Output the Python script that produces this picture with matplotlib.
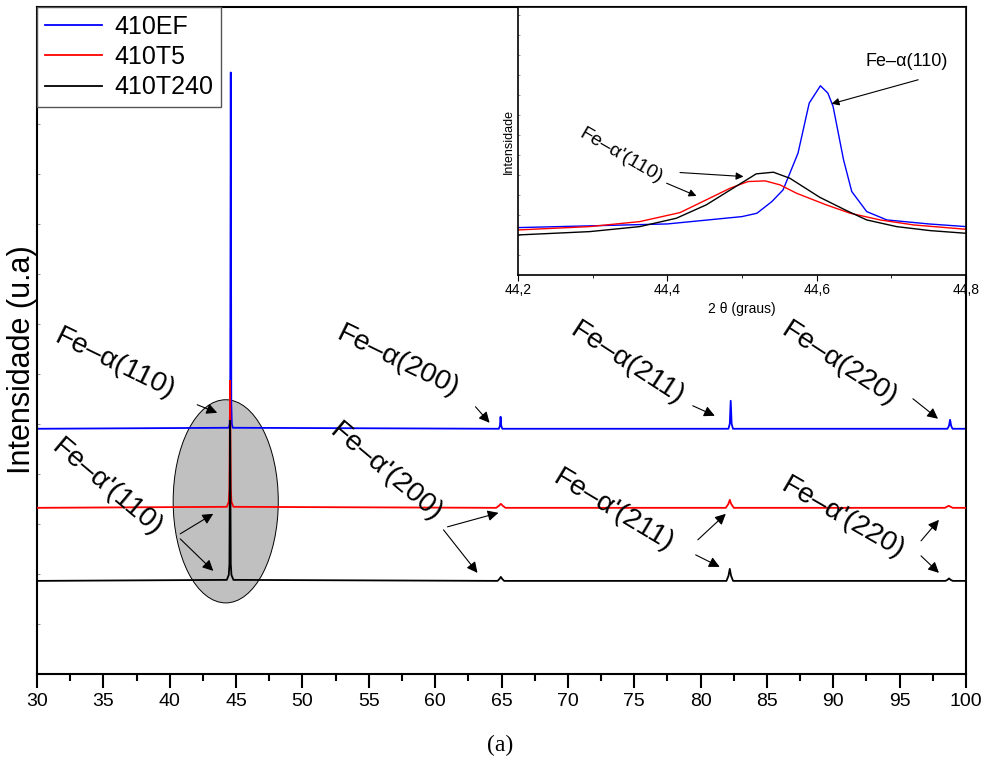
import numpy as np
import matplotlib.pyplot as plt
from matplotlib.patches import Ellipse
from matplotlib.ticker import MultipleLocator, FixedLocator

plt.rcParams['font.family'] = ['Liberation Sans', 'DejaVu Sans']

# difratogramas (intensidade em u.a., curvas deslocadas)
x_ef = [30, 44.45, 44.52, 44.56, 44.6, 44.64, 44.68, 44.75, 64.8, 64.88, 64.93, 64.98, 65.06,
        82.1, 82.2, 82.27, 82.34, 82.44, 98.6, 98.72, 98.8, 98.88, 98.98, 100]
y_ef = [245, 246, 250, 270, 601, 270, 250, 246, 245, 248, 257, 248, 245,
        245, 250, 273, 250, 245, 245, 248, 254, 248, 245, 245]

x_t5 = [30, 44.3, 44.45, 44.5, 44.55, 44.6, 44.65, 44.8, 64.6, 64.8, 64.95, 65.1, 65.3,
        81.9, 82.1, 82.2, 82.3, 82.5, 98.4, 98.7, 99.0, 100]
y_t5 = [166, 167, 172, 185, 293, 185, 172, 167, 166, 168, 170, 168, 166,
        166, 170, 174, 170, 166, 166, 168, 166, 166]

x_t240 = [30, 44.3, 44.45, 44.5, 44.55, 44.6, 44.65, 44.8, 64.7, 64.85, 64.95, 65.05, 65.2,
          81.95, 82.1, 82.2, 82.3, 82.45, 98.45, 98.6, 98.72, 98.85, 99.0, 100]
y_t240 = [93, 94, 99, 110, 253, 110, 99, 94, 93, 95, 97, 95, 93,
          93, 98, 105, 98, 93, 93, 94, 95.5, 94, 93, 93]

# detalhe do pico (110)
xi_ef = [44.2, 44.4, 44.5, 44.52, 44.54, 44.555, 44.575, 44.59, 44.605, 44.615, 44.622,
         44.636, 44.647, 44.667, 44.694, 44.75, 44.8]
yi_ef = [142, 153, 175, 185, 220, 255, 365, 515, 567, 545, 505, 345, 250, 190, 165, 153, 145]
xi_t5 = [44.2, 44.296, 44.363, 44.417, 44.452, 44.484, 44.508, 44.531, 44.551, 44.573,
         44.613, 44.645, 44.685, 44.73, 44.8]
yi_t5 = [135, 145, 160, 187, 225, 260, 280, 282, 270, 245, 210, 185, 165, 150, 137]
xi_t240 = [44.2, 44.296, 44.363, 44.412, 44.452, 44.488, 44.519, 44.542, 44.564, 44.604,
           44.64, 44.667, 44.707, 44.752, 44.8]
yi_t240 = [120, 130, 145, 170, 210, 260, 303, 308, 290, 233, 193, 165, 145, 133, 125]

# rotulos: texto, posicao, rotacao, setas (origem -> destino)
labels = ["Fe\u2013\u03b1(110)", "Fe\u2013\u03b1'(110)", "Fe\u2013\u03b1(200)", "Fe\u2013\u03b1'(200)",
          "Fe\u2013\u03b1(211)", "Fe\u2013\u03b1'(211)", "Fe\u2013\u03b1(220)", "Fe\u2013\u03b1'(220)"]
label_x = [35.88, 35.28, 57.16, 56.25, 74.5, 73.45, 90.42, 90.72]
label_y = [310, 186, 312, 201, 310, 163, 310, 156]
label_rot = [-26, -40, -26, -40, -33, -31, -33, -30]
arrows = [
    [((42.07, 269), (43.58, 261))],
    [((40.79, 140), (43.28, 160)), ((40.79, 135), (43.28, 103))],
    [((63.04, 267), (64.10, 251))],
    [((60.93, 147), (64.77, 161)), ((60.63, 144), (63.19, 101))],
    [((79.41, 268), (81.07, 258))],
    [((79.79, 134), (81.90, 160)), ((79.63, 119), (81.44, 107))],
    [((96.0, 275), (97.89, 255))],
    [((96.61, 133), (97.96, 154)), ((96.61, 118), (97.96, 101))],
]

fig = plt.figure(figsize=(9.92, 7.67), dpi=100)
ax = fig.add_axes([0.0373, 0.1213, 0.9365, 0.869])

ax.add_patch(Ellipse((44.22, 172.5), 7.92, 203, fc='#c0c0c0', ec='k', lw=0.7, zorder=1))
ax.plot(x_ef, y_ef, color='blue', lw=1.3, label='410EF', zorder=2)
ax.plot(x_t5, y_t5, color='red', lw=1.3, label='410T5', zorder=3)
ax.plot(x_t240, y_t240, color='black', lw=1.3, label='410T240', zorder=4)

for txt, lx, ly, rot, arr in zip(labels, label_x, label_y, label_rot, arrows):
    ax.text(lx, ly, txt, fontsize=20.5, rotation=rot, ha='center', va='center')
    for (x0, y0), (x1, y1) in arr:
        ax.annotate('', xy=(x1, y1), xytext=(x0, y0),
                    arrowprops=dict(arrowstyle='-|>', color='k', lw=0.8,
                                    mutation_scale=16, shrinkA=0, shrinkB=0))

ax.set_xlim(30, 100)
ax.set_ylim(0, 666)
ax.xaxis.set_major_locator(MultipleLocator(5))
ax.xaxis.set_minor_locator(MultipleLocator(2.5))
ax.yaxis.set_major_locator(MultipleLocator(50))
ax.tick_params(axis='x', which='major', direction='out', length=10, width=1.5, labelsize=14, pad=4)
ax.tick_params(axis='x', which='minor', direction='out', length=5, width=1.5)
ax.tick_params(axis='y', which='major', direction='in', length=2, width=0.5,
               color='#666666', labelleft=False)
for s in ax.spines.values():
    s.set_linewidth(1.5)

leg = ax.legend(loc='upper left', bbox_to_anchor=(0, 1), borderaxespad=0, fontsize=18,
                fancybox=False, framealpha=1, edgecolor='#555555', handlelength=2.3,
                handletextpad=0.5, labelspacing=0.25, borderpad=0.3)
leg.get_frame().set_linewidth(1.0)

fig.text(22 / 992, 1 - 360 / 767, 'Intensidade (u.a)', fontsize=22, rotation=90,
         ha='center', va='center')
fig.text(500 / 992, 1 - 745 / 767, '(a)', fontsize=17, family='Liberation Serif',
         ha='center', va='center')

# inset
axi = fig.add_axes([518 / 992, 1 - 275 / 767, 448 / 992, 268 / 767])
axi.plot(xi_ef, yi_ef, color='blue', lw=1)
axi.plot(xi_t5, yi_t5, color='red', lw=1)
axi.plot(xi_t240, yi_t240, color='black', lw=1)
axi.set_xlim(44.2, 44.8)
axi.set_ylim(0, 803)
axi.xaxis.set_major_locator(FixedLocator([44.2, 44.4, 44.6, 44.8]))
axi.xaxis.set_minor_locator(FixedLocator([44.3, 44.5, 44.7]))
axi.set_xticklabels(['44,2', '44,4', '44,6', '44,8'])
axi.yaxis.set_major_locator(MultipleLocator(60))
axi.tick_params(axis='x', which='major', direction='out', length=4, labelsize=10, pad=2)
axi.tick_params(axis='x', which='minor', direction='out', length=2)
axi.tick_params(axis='y', which='major', direction='in', length=1.5, width=0.5,
                color='#666666', labelleft=False)
for s in axi.spines.values():
    s.set_linewidth(1.2)
axi.set_xlabel('2 \u03b8 (graus)', fontsize=10, labelpad=3)
axi.set_ylabel('Intensidade', fontsize=9, labelpad=2)

axi.text(44.665, 640, "Fe\u2013\u03b1(110)", fontsize=13, ha='left', va='center')
axi.annotate('', xy=(44.62, 513), xytext=(44.736, 585),
             arrowprops=dict(arrowstyle='-|>', color='k', lw=0.8, mutation_scale=11,
                             shrinkA=0, shrinkB=0))
axi.text(44.338, 358, "Fe\u2013\u03b1'(110)", fontsize=14, rotation=-30, ha='center', va='center')
axi.annotate('', xy=(44.502, 295), xytext=(44.417, 307),
             arrowprops=dict(arrowstyle='-|>', color='k', lw=0.8, mutation_scale=11,
                             shrinkA=0, shrinkB=0))
axi.annotate('', xy=(44.439, 237), xytext=(44.399, 275),
             arrowprops=dict(arrowstyle='-|>', color='k', lw=0.8, mutation_scale=11,
                             shrinkA=0, shrinkB=0))

fig.savefig('out.png', dpi=100)
